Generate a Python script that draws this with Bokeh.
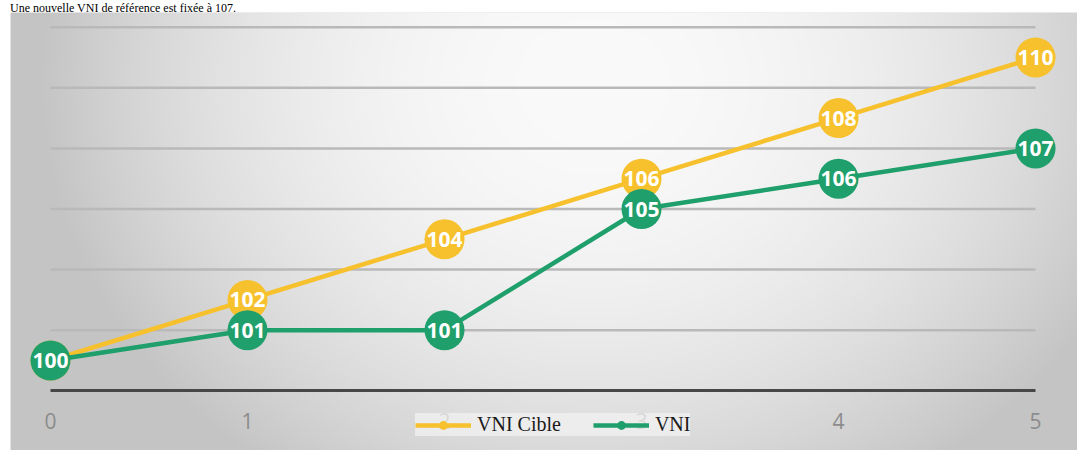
import numpy as np
from bokeh.plotting import figure
from bokeh.models import Div, Legend, LegendItem, FixedTicker, Range1d
from bokeh.layouts import column
from bokeh.embed import file_html
from bokeh.resources import INLINE
from bokeh.core.properties import value

# ---------------- data ----------------
title_text = "Une nouvelle VNI de référence est fixée à 107."
periods = [0, 1, 2, 3, 4, 5]
vni_cible = [100, 102, 104, 106, 108, 110]
vni = [100, 101, 101, 105, 106, 107]
grid_levels = [101, 103, 105, 107, 109, 111]
baseline_level = 99
series_names = ["VNI Cible", "VNI"]

YELLOW = "#F6C12C"
GREEN = "#1F9F6B"

W, H = 1067, 438
x0, x1 = -0.203, 5.213
y0, y1 = 97.030, 111.485

p = figure(width=W, height=H, x_range=Range1d(x0, x1), y_range=Range1d(y0, y1),
           output_backend="svg", toolbar_location=None, min_border=0,
           outline_line_color=None, margin=(0, 0, 0, 10),
           background_fill_color="#dedede", border_fill_color="#dedede")

# background radial gradient (decoration)
nx, ny = W // 2, H // 2
yy, xx = np.mgrid[0:ny, 0:nx]
sx = xx * 2.0
sy = (ny - 1 - yy) * 2.0
cx, cy = 580.0, 70.0
dx = np.where(sx < cx, (sx - cx) / 500.0, (sx - cx) / 520.0)
dy = (sy - cy) / 430.0
r2 = dx ** 2 + dy ** 2
g = np.clip(250 - 44 * r2, 196, 250).astype(np.uint8)
img = np.empty((ny, nx), dtype=np.uint32)
view = img.view(dtype=np.uint8).reshape((ny, nx, 4))
view[..., 0] = g
view[..., 1] = g
view[..., 2] = g
view[..., 3] = 255
p.image_rgba(image=[img], x=x0, y=y0, dw=x1 - x0, dh=y1 - y0)

# horizontal grid lines spanning the category extent
n = len(grid_levels)
p.segment(x0=[periods[0]] * n, x1=[periods[-1]] * n, y0=grid_levels, y1=grid_levels,
          line_color="#b9b9b9", line_width=2.5)

p.xgrid.visible = False
p.ygrid.visible = False
p.yaxis.visible = False

xa = p.xaxis[0]
xa.fixed_location = baseline_level
xa.bounds = (periods[0], periods[-1])
xa.ticker = FixedTicker(ticks=periods)
xa.minor_tick_line_color = None
xa.major_tick_line_color = None
xa.major_tick_out = 0
xa.major_tick_in = 0
xa.axis_line_color = "#474747"
xa.axis_line_width = 3
xa.major_label_text_color = "#8c8c8c"
xa.major_label_text_font = "Open Sans"
xa.major_label_text_font_size = "21px"
xa.major_label_standoff = 22

# series
ly = p.line(periods, vni_cible, line_color=YELLOW, line_width=4.5)
cyr = p.scatter(periods, vni_cible, size=40, fill_color=YELLOW, line_color=None)
p.text(periods, vni_cible, text=[str(v) for v in vni_cible], text_color="white",
       text_font=value("Open Sans"), text_font_style="bold", text_font_size="21px",
       text_align="center", text_baseline="middle")

lg = p.line(periods, vni, line_color=GREEN, line_width=4.5)
cg = p.scatter(periods, vni, size=40, fill_color=GREEN, line_color=None)
p.text(periods, vni, text=[str(v) for v in vni], text_color="white",
       text_font=value("Open Sans"), text_font_style="bold", text_font_size="21px",
       text_align="center", text_baseline="middle")

legend = Legend(items=[LegendItem(label=series_names[0], renderers=[ly, cyr]),
                       LegendItem(label=series_names[1], renderers=[lg, cg])],
                location=(405, 14), orientation="horizontal",
                glyph_width=56, glyph_height=22, label_standoff=6, spacing=32,
                padding=14, margin=0,
                background_fill_color="#f2f2f2", background_fill_alpha=0.75,
                border_line_color=None,
                label_text_font="Liberation Serif", label_text_font_size="20px",
                label_text_color="#1a1a1a")
p.add_layout(legend)

title = Div(text='<span style="font-family:\'Liberation Serif\';font-size:12px;'
                 'color:#000;white-space:nowrap;line-height:12px">' + title_text + '</span>',
            width=1000, height=12, margin=(0, 0, 0, 10))

layout = column(title, p, spacing=0)

open("out.html", "w").write(file_html(layout, INLINE))
